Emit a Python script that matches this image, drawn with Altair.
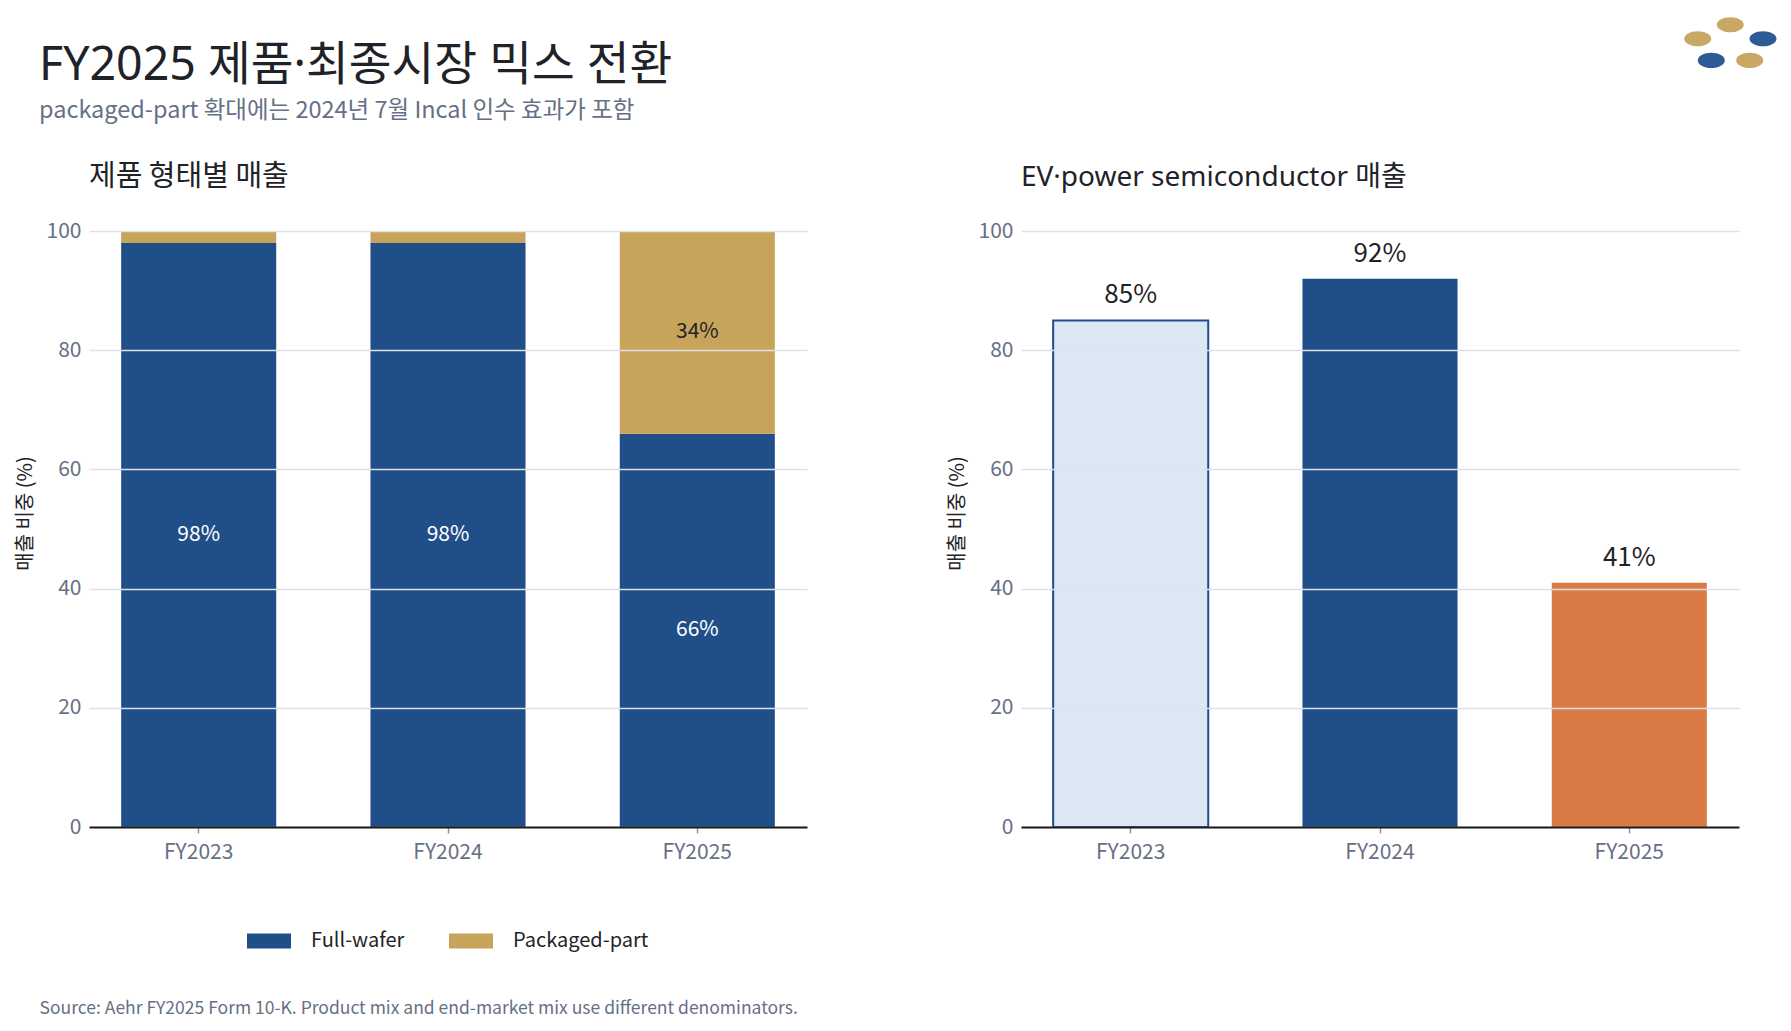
import altair as alt
import pandas as pd

# ---- data -------------------------------------------------------------
years = ["FY2023", "FY2024", "FY2025"]
segments = ["Full-wafer", "Packaged-part"]
full_wafer = [98, 98, 66]
packaged_part = [2, 2, 34]
ev_power = [85, 92, 41]

TITLE = "FY2025 제품·최종시장 믹스 전환"
SUBTITLE = "packaged-part 확대에는 2024년 7월 Incal 인수 효과가 포함"
LEFT_TITLE = "제품 형태별 매출"
RIGHT_TITLE = "EV·power semiconductor 매출"
SOURCE = "Source: Aehr FY2025 Form 10-K. Product mix and end-market mix use different denominators."
Y_TITLE = "매출 비중 (%)"

# ---- style ------------------------------------------------------------
FONT = "Noto Sans CJK KR"
# headings containing a middle dot take Latin glyphs from Noto Sans
HEAD_FONT = "Noto Sans, Noto Sans CJK KR"
BLUE = "#1f4e89"
GOLD = "#c8a35a"
ORANGE = "#d97a44"
LIGHT = "#dce7f4"
INK = "#1f2328"
MUTED = "#667085"
GRID = "#dde1e6"

W, H = 718, 596
BAR_PAD_INNER, BAR_PAD_OUTER = 0.378, 0.129

mix = pd.DataFrame(
    [
        {"year": y, "segment": s, "share": v, "seg_order": i}
        for i, (s, vals) in enumerate(zip(segments, [full_wafer, packaged_part]))
        for y, v in zip(years, vals)
    ]
)
ev = pd.DataFrame({"year": years, "share": ev_power})


def x_enc():
    return alt.X(
        "year:N",
        sort=years,
        scale=alt.Scale(paddingInner=BAR_PAD_INNER, paddingOuter=BAR_PAD_OUTER),
        axis=alt.Axis(
            title=None,
            labelAngle=0,
            labelFont=FONT,
            labelFontSize=21,
            labelColor=MUTED,
            labelPadding=8,
            domainColor="#1a1a1a",
            domainWidth=2,
            ticks=True,
            tickColor="#8a93a6",
            tickSize=6,
            tickWidth=1.5,
            grid=False,
            zindex=1,
        ),
    )


def y_axis():
    return alt.Axis(
        title=Y_TITLE,
        titleFont=FONT,
        titleFontSize=20,
        titleFontWeight="normal",
        titleColor=INK,
        titlePadding=11,
        titleY=282,
        values=[0, 20, 40, 60, 80, 100],
        labelFont=FONT,
        labelFontSize=21,
        labelColor=MUTED,
        labelPadding=8,
        ticks=False,
        domain=False,
        grid=True,
        gridColor=GRID,
        gridWidth=1.5,
        zindex=1,
    )


def text_layer(txt, x, y, size, color, font=FONT):
    return (
        alt.Chart(pd.DataFrame({"t": [txt]}))
        .mark_text(align="left", baseline="alphabetic", font=font, fontSize=size, color=color)
        .encode(x=alt.value(x), y=alt.value(y), text="t:N")
    )


y_scale = alt.Scale(domain=[0, 100], nice=False)

# ---- left: product mix (stacked) -------------------------------------
mix_bars = (
    alt.Chart(mix)
    .mark_bar()
    .encode(
        x=x_enc(),
        y=alt.Y("share:Q", stack="zero", scale=y_scale, axis=y_axis()),
        color=alt.Color(
            "segment:N",
            scale=alt.Scale(domain=segments, range=[BLUE, GOLD]),
            legend=alt.Legend(
                title=None,
                orient="none",
                legendX=158,
                legendY=688,
                direction="horizontal",
                symbolType="M-1,-0.34H1V0.34H-1Z",
                symbolSize=1936,
                symbolStrokeWidth=0,
                symbolOpacity=1,
                labelFont=FONT,
                labelFontSize=20,
                labelColor=INK,
                labelOffset=20,
                columnPadding=44,
                padding=0,
            ),
        ),
        order=alt.Order("seg_order:Q"),
    )
)

mix_labels = (
    alt.Chart(mix)
    .transform_stack(
        stack="share",
        groupby=["year"],
        as_=["y0", "y1"],
        sort=[alt.SortField("seg_order")],
    )
    .transform_calculate(mid="(datum.y0 + datum.y1) / 2", label="datum.share + '%'")
    .transform_filter("datum.share >= 10")
    .mark_text(font=FONT, fontSize=21, baseline="middle")
    .encode(
        x=alt.X("year:N", sort=years),
        y=alt.Y("mid:Q", scale=y_scale),
        text="label:N",
        color=alt.Color(
            "segment:N",
            scale=alt.Scale(domain=segments, range=["#ffffff", INK]),
            legend=None,
        ),
    )
)

anchor = (
    alt.Chart(pd.DataFrame({"a": [0]}))
    .mark_point(opacity=0, size=1, filled=True)
    .encode(x=alt.value(-88), y=alt.value(-229.6))
)

left = (
    alt.layer(
        mix_bars,
        mix_labels,
        text_layer(TITLE, -50, -151, 46.5, INK, HEAD_FONT),
        text_layer(SUBTITLE, -50, -113, 23.5, MUTED),
        text_layer(LEFT_TITLE, 0, -44.6, 29, INK),
        text_layer(SOURCE, -49.5, 783.4, 17.5, MUTED),
        anchor,
    )
    .resolve_scale(color="independent")
    .properties(width=W, height=H)
)

# ---- right: EV / power semiconductor share --------------------------
ev_bars = (
    alt.Chart(ev)
    .mark_bar()
    .encode(
        x=x_enc(),
        y=alt.Y("share:Q", scale=y_scale, axis=y_axis()),
        color=alt.Color(
            "year:N",
            sort=years,
            scale=alt.Scale(domain=years, range=[LIGHT, BLUE, ORANGE]),
            legend=None,
        ),
        stroke=alt.value(BLUE),
        strokeWidth=alt.condition("datum.year == 'FY2023'", alt.value(2), alt.value(0)),
    )
)

ev_labels = (
    alt.Chart(ev)
    .transform_calculate(label="datum.share + '%'")
    .mark_text(font=FONT, fontSize=26, color=INK, baseline="middle", dy=-25)
    .encode(
        x=alt.X("year:N", sort=years),
        y=alt.Y("share:Q", scale=y_scale),
        text="label:N",
    )
)

# brand mark: five ellipses in the top-right corner
ELLIPSE = "M-1,0A1,0.56,0,1,1,1,0A1,0.56,0,1,1,-1,0Z"
LOGO_GOLD = "#c9a865"
LOGO_BLUE = "#2f5b95"
logo_layers = [
    alt.Chart(pd.DataFrame({"a": [0]}))
    .mark_point(shape=ELLIPSE, size=729, filled=True, opacity=1, color=c)
    .encode(x=alt.value(px), y=alt.value(py))
    for px, py, c in [
        (709.3, -206.3, LOGO_GOLD),
        (676.7, -192.3, LOGO_GOLD),
        (742.0, -192.3, LOGO_BLUE),
        (690.3, -170.6, LOGO_BLUE),
        (728.7, -170.6, LOGO_GOLD),
    ]
]

right = (
    alt.layer(
        ev_bars,
        ev_labels,
        text_layer(RIGHT_TITLE, 0, -44.6, 28, INK, HEAD_FONT),
        *logo_layers,
    )
    .resolve_scale(color="independent")
    .properties(width=W, height=H)
)

chart = (
    alt.hconcat(left, right, spacing=214, bounds="flush")
    .properties(padding=0, background="#ffffff")
    .configure_view(stroke=None)
)

chart.save("out.html", embed_options={"renderer": "svg", "actions": False})
